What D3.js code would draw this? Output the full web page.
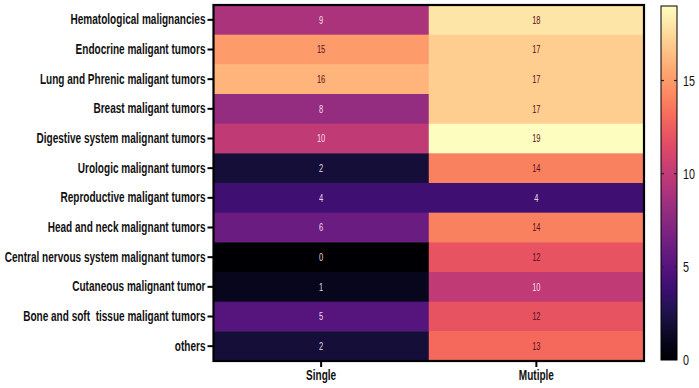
<!DOCTYPE html>
<html><head><meta charset="utf-8">
<script src="https://cdn.jsdelivr.net/npm/d3@7"></script>
<style>
html,body{margin:0;padding:0;background:#fff;}
svg{display:block;}
text{font-family:"Liberation Sans",Arial,sans-serif;}
</style></head>
<body><svg id="c" width="699" height="388"></svg>
<script>
const categories = ["Hematological malignancies","Endocrine maligant tumors","Lung and Phrenic maligant tumors","Breast maligant tumors","Digestive system malignant tumors","Urologic malignant tumors","Reproductive maligant tumors","Head and neck malignant tumors","Central nervous system malignant tumors","Cutaneous malignant tumor","Bone and soft  tissue maligant tumors","others"];
const columns = ["Single","Mutiple"];
const singleValues = [9,15,16,8,10,2,4,6,0,1,5,2];
const multipleValues = [18,17,17,17,19,14,4,14,12,10,12,13];
const colorTicks = [0,5,10,15];

const svg = d3.select("#c");
const L=213.5, R=644, T=5, B=361;
const x = d3.scaleBand().domain(columns).range([L,R]);
const y = d3.scaleBand().domain(categories).range([T,B]);
const color = d3.scaleSequential(d3.interpolateMagma).domain([0,19]);

const cells=[];
categories.forEach((c,i)=>{cells.push({r:c,c:"Single",v:singleValues[i]});cells.push({r:c,c:"Mutiple",v:multipleValues[i]});});

const FS=14;
// narrow scaling factor (emulates Arial Narrow)
const probe = svg.append("text").attr("font-size",FS).attr("font-weight","bold").style("white-space","pre").text(categories[8]);
const S = 201 / probe.node().getComputedTextLength();
probe.remove();

function narrow(sel){
  sel.each(function(){
    const t=d3.select(this);
    const xx = +t.attr("x")||0;
    t.attr("x",0).attr("transform",`translate(${xx},0) scale(${S},1)`);
  });
}

svg.append("g").selectAll("rect").data(cells).join("rect")
  .attr("x",d=>x(d.c)).attr("y",d=>y(d.r))
  .attr("width",x.bandwidth()+0.5).attr("height",y.bandwidth()+0.5)
  .attr("fill",d=>color(d.v));
svg.append("g").selectAll("text").data(cells).join("text")
  .attr("transform",d=>`translate(${x(d.c)+x.bandwidth()/2},${y(d.r)+y.bandwidth()/2}) scale(${S},1)`)
  .attr("text-anchor","middle").attr("dy","0.35em")
  .attr("font-size",10.5)
  .attr("fill",d=>d.v<=10?"rgba(255,232,245,0.92)":"#5a0f1a")
  .text(d=>d.v);

svg.append("rect").attr("x",L).attr("y",T).attr("width",R-L).attr("height",B-T)
  .attr("fill","none").attr("stroke","#000").attr("stroke-width",2.2);

// y axis
const ya = svg.append("g").attr("transform",`translate(${L},0)`)
  .call(d3.axisLeft(y).tickSize(6).tickPadding(2));
ya.select(".domain").remove();
ya.selectAll("line").attr("stroke","#000").attr("stroke-width",2);
ya.selectAll("text").attr("font-size",FS).attr("font-weight","bold").attr("fill","#111").style("white-space","pre");
narrow(ya.selectAll("text"));

// x axis
const xa = svg.append("g").attr("transform",`translate(0,${B})`)
  .call(d3.axisBottom(x).tickSize(6).tickPadding(3));
xa.select(".domain").remove();
xa.selectAll("line").attr("stroke","#000").attr("stroke-width",2);
xa.selectAll("text").attr("font-size",FS).attr("font-weight","bold").attr("fill","#111");
narrow(xa.selectAll("text"));

// colorbar
const cbX=661, cbW=16;
const cy = d3.scaleLinear().domain([0,19]).range([360,6]);
const defs=svg.append("defs");
const grad=defs.append("linearGradient").attr("id","g").attr("x1","0").attr("y1","1").attr("x2","0").attr("y2","0");
d3.range(0,1.0001,0.05).forEach(t=>grad.append("stop").attr("offset",t).attr("stop-color",d3.interpolateMagma(t)));
svg.append("rect").attr("x",cbX).attr("y",cy(19)).attr("width",cbW).attr("height",cy(0)-cy(19))
  .attr("fill","url(#g)").attr("stroke","#000").attr("stroke-width",1);
const ca = svg.append("g").attr("transform",`translate(${cbX+cbW},0)`)
  .call(d3.axisRight(cy).tickValues(colorTicks).tickSize(0).tickPadding(6).tickFormat(d3.format("d")));
ca.select(".domain").remove();
ca.selectAll("text").attr("font-size",15).attr("fill","#111");
narrow(ca.selectAll("text"));
svg.append("g").selectAll("line").data(colorTicks.filter(t=>t>0)).join("line")
  .attr("x1",cbX).attr("x2",cbX+3).attr("y1",d=>cy(d)).attr("y2",d=>cy(d)).attr("stroke","#222").attr("stroke-width",1.2);
svg.append("g").selectAll("line").data(colorTicks.filter(t=>t>0)).join("line")
  .attr("x1",cbX+cbW-3).attr("x2",cbX+cbW).attr("y1",d=>cy(d)).attr("y2",d=>cy(d)).attr("stroke","#222").attr("stroke-width",1.2);
</script></body></html>
